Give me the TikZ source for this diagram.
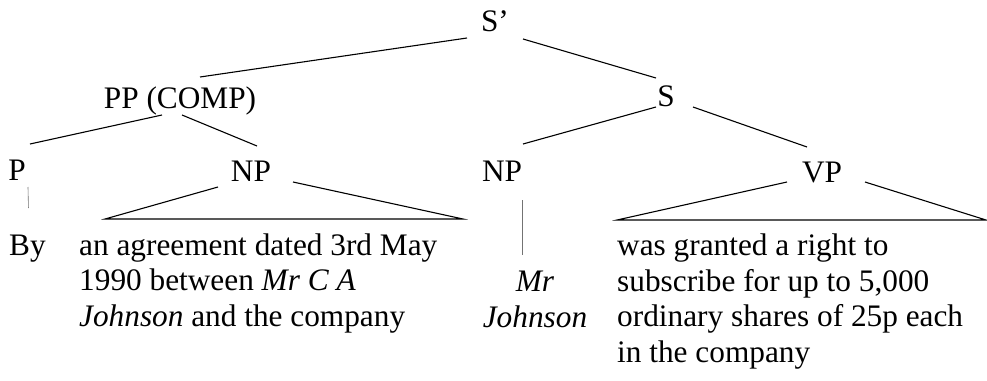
\documentclass[tikz,border=0pt]{standalone}
\usepackage{fontspec}
\setmainfont{Liberation Serif}

\begin{document}
\begin{tikzpicture}[
      x=1pt, y=-1pt,
      font=\fontsize{31.3}{35.5}\selectfont,
      cat/.style={inner sep=0pt, anchor=base},
      leaf/.style={inner sep=0pt, align=left, anchor=base west},
      edge/.style={line width=1.1pt},
      stem/.style={line width=0.6pt, black!55}
    ]
    \useasboundingbox (0,0) rectangle (987,380);

    % categories
    \node[cat] (sbar) at (495,31)  {S’};
    \node[cat] (pp)   at (180,108) {PP (COMP)};
    \node[cat] (s)    at (666,106) {S};
    \node[cat] (p)    at (17,180)  {P};
    \node[cat] (np1)  at (251,181) {NP};
    \node[cat] (np2)  at (502,181) {NP};
    \node[cat] (vp)   at (822,182) {VP};

    % words (base = last line)
    \node[leaf] (by)    at (9,255)   {By};
    \node[leaf] (agr)   at (79,326)  {an agreement dated 3rd May\\
      1990 between \textit{Mr C A}\\\textit{Johnson} and the company};
    \node[leaf, align=center, anchor=base] (mr) at (535,327)
      {\textit{Mr}\\\textit{Johnson}};
    \node[leaf] (grant) at (617,362) {was granted a right to\\
      subscribe for up to 5,000\\ordinary shares of 25p each\\in the company};

    % triangle corners
    \coordinate (agrl) at (105,219);
    \coordinate (agrr) at (463,219);
    \coordinate (grl)  at (617,220);
    \coordinate (grr)  at (986,220);

    \draw[edge] ([shift={(-28,7)}]sbar.base) -- ([shift={(20,-31)}]pp.base);
    \draw[edge] ([shift={(28,8)}]sbar.base) -- ([shift={(-10,-28)}]s.base);
    \draw[edge] ([shift={(-18,7)}]pp.base) -- ([shift={(13,-36)}]p.base);
    \draw[edge] ([shift={(2,7)}]pp.base) -- ([shift={(6,-35)}]np1.base);
    \draw[edge] ([shift={(-10,1)}]s.base) -- ([shift={(21,-37)}]np2.base);
    \draw[edge] ([shift={(27,1)}]s.base) -- ([shift={(-15,-35)}]vp.base);
    \draw[edge] ([shift={(-33,6)}]np1.base) -- (agrl) -- (agrr)
      -- ([shift={(42,1)}]np1.base);
    \draw[edge] ([shift={(-35,0)}]vp.base) -- (grl) -- (grr)
      -- ([shift={(43,0)}]vp.base);
    \draw[stem] ([shift={(11,7)}]p.base) -- ([shift={(1,-47)}]by.base);
    \draw[stem] ([shift={(20,19)}]np2.base) -- ([shift={(-13,-72)}]mr.base);
  \end{tikzpicture}
\end{document}
